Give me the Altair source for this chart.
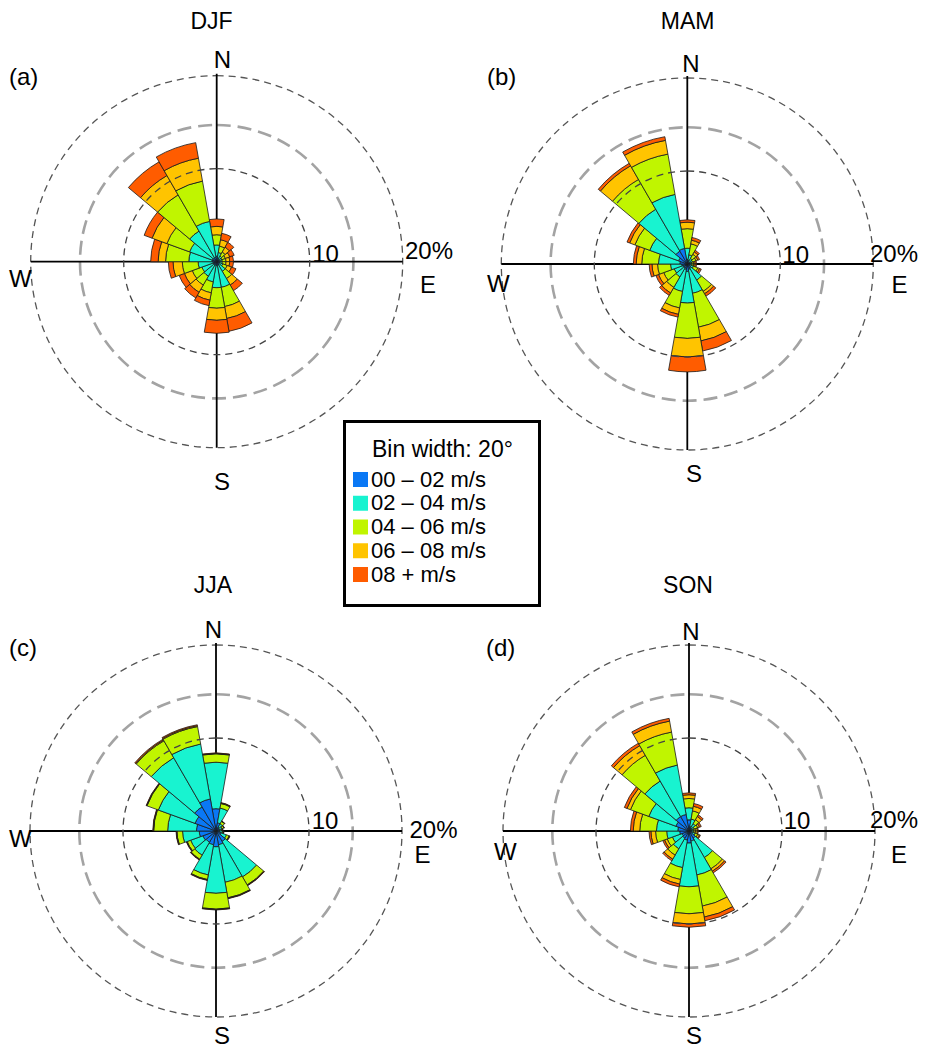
import math
import altair as alt
import pandas as pd

# ---------------- data ----------------
directions = list(range(0, 360, 20))          # bin centres, 20 degree bins
bin_width = 20
speed_classes = ["00 – 02 m/s", "02 – 04 m/s", "04 – 06 m/s", "06 – 08 m/s", "08 + m/s"]
speed_colors = ["#0a78f5", "#18f3d0", "#c0f500", "#ffc400", "#ff5c00"]
seasons = ["DJF", "MAM", "JJA", "SON"]
panel_tags = ["(a)", "(b)", "(c)", "(d)"]
ring_levels = [10, 14.7, 20]                  # % frequency circles

# frequency (%) per direction bin, one list per speed class
djf_00_02 = [0.6, 0.4, 0.3, 0.3, 0.3, 0.3, 0.3, 0.4, 0.4, 0.4, 0.4, 0.4, 0.4, 0.4, 0.5, 0.5, 0.5, 0.5]
djf_02_04 = [1.2, 0.6, 0.4, 0.3, 0.3, 0.3, 0.4, 0.8, 2.4, 2.4, 1.8, 1.4, 1.3, 1.6, 2.5, 2.6, 3.3, 3.9]
djf_04_06 = [1.1, 0.7, 0.5, 0.4, 0.4, 0.4, 0.5, 0.9, 2.1, 2.2, 1.2, 1.1, 1.1, 1.7, 2.5, 2.6, 4.5, 4.4]
djf_06_08 = [0.9, 0.7, 0.6, 0.5, 0.4, 0.4, 0.5, 0.8, 1.3, 1.3, 0.8, 0.9, 0.9, 1.0, 0.8, 1.7, 2.4, 2.5]
djf_08_up = [0.8, 0.7, 0.6, 0.5, 0.4, 0.4, 0.5, 0.7, 1.4, 1.4, 0.6, 0.7, 0.6, 0.5, 0.8, 0.9, 1.7, 1.7]

mam_00_02 = [0.5, 0.4, 0.3, 0.3, 0.3, 0.3, 0.3, 0.5, 0.6, 0.8, 0.6, 0.5, 0.5, 0.6, 0.8, 1.0, 1.6, 1.7]
mam_02_04 = [1.2, 0.6, 0.4, 0.3, 0.2, 0.2, 0.4, 1.5, 2.6, 3.4, 2.4, 1.1, 1.0, 1.2, 2.3, 3.3, 5.2, 5.9]
mam_04_06 = [2.1, 1.2, 0.5, 0.4, 0.2, 0.2, 0.5, 1.4, 3.7, 3.8, 1.8, 1.3, 1.2, 1.4, 1.8, 1.7, 3.7, 4.4]
mam_06_08 = [0.7, 0.4, 0.3, 0.2, 0.15, 0.15, 0.2, 0.3, 1.5, 2.0, 0.7, 0.7, 0.6, 0.6, 0.6, 0.6, 1.7, 1.5]
mam_08_up = [0.25, 0.3, 0.2, 0.2, 0.15, 0.15, 0.2, 0.3, 1.1, 1.6, 0.3, 0.3, 0.3, 0.3, 0.3, 0.3, 0.3, 0.4]

jja_00_02 = [2.4, 0.9, 0.5, 0.4, 0.4, 0.4, 0.6, 1.3, 1.5, 1.7, 1.5, 1.4, 1.5, 1.8, 2.1, 2.4, 3.0, 3.5]
jja_02_04 = [5.0, 1.6, 0.4, 0.3, 0.2, 0.3, 0.6, 4.4, 4.1, 5.0, 3.3, 1.6, 1.4, 1.8, 3.1, 4.2, 6.1, 6.0]
jja_04_06 = [0.9, 0.5, 0.3, 0.2, 0.1, 0.1, 0.3, 1.0, 1.7, 1.7, 0.5, 0.5, 0.4, 0.6, 1.5, 1.3, 2.1, 1.9]
jja_06_08 = [0.05, 0.05, 0.03, 0.03, 0.03, 0.03, 0.05, 0.05, 0.05, 0.05, 0.05, 0.05, 0.05, 0.05, 0.05, 0.05, 0.1, 0.1]
jja_08_up = [0.05, 0.05, 0.02, 0.02, 0.02, 0.02, 0.05, 0.05, 0.05, 0.05, 0.05, 0.05, 0.05, 0.05, 0.05, 0.05, 0.1, 0.1]

son_00_02 = [1.2, 0.5, 0.4, 0.3, 0.3, 0.3, 0.4, 0.9, 1.1, 1.3, 1.0, 0.9, 0.8, 1.0, 1.2, 1.5, 1.8, 1.8]
son_02_04 = [1.3, 0.8, 0.5, 0.3, 0.2, 0.2, 0.3, 2.4, 3.7, 4.7, 3.0, 1.3, 1.1, 1.4, 2.3, 3.1, 4.4, 5.4]
son_04_06 = [1.0, 0.9, 0.5, 0.4, 0.2, 0.2, 0.3, 1.4, 3.4, 2.9, 1.3, 0.8, 0.6, 1.2, 1.8, 2.1, 3.2, 3.6]
son_06_08 = [0.4, 0.5, 0.4, 0.2, 0.2, 0.2, 0.2, 0.3, 1.2, 1.1, 0.5, 0.5, 0.3, 0.5, 0.7, 0.4, 1.2, 1.2]
son_08_up = [0.2, 0.3, 0.2, 0.2, 0.1, 0.1, 0.1, 0.2, 0.4, 0.35, 0.3, 0.2, 0.2, 0.2, 0.3, 0.3, 0.3, 0.3]

season_data = {
    "DJF": [djf_00_02, djf_02_04, djf_04_06, djf_06_08, djf_08_up],
    "MAM": [mam_00_02, mam_02_04, mam_04_06, mam_06_08, mam_08_up],
    "JJA": [jja_00_02, jja_02_04, jja_04_06, jja_06_08, jja_08_up],
    "SON": [son_00_02, son_02_04, son_04_06, son_06_08, son_08_up],
}

# stacked table built from the arrays above
rows = []
for season in seasons:
    classes = season_data[season]
    for i, d in enumerate(directions):
        base = 0.0
        for k, name in enumerate(speed_classes):
            v = classes[k][i]
            rows.append({"season": season, "dir": d, "speed": name,
                         "t0": d - bin_width / 2, "t1": d + bin_width / 2,
                         "r0": base, "r1": base + v})
            base += v
bars_df = pd.DataFrame(rows)

# ---------------- layout / style ----------------
FONT = "Liberation Sans"
OFF = 8            # page margin (positions below are page pixels)
R = 186            # pixel radius of the 20 % circle
W, H = 912, 1042
LBL = 24           # compass font size

theta_scale = alt.Scale(domain=[0, 360], range=[0, 2 * math.pi], nice=False)
radius_scale = alt.Scale(type="linear", domain=[0, 20], range=[0, R], nice=False, zero=True)
color_scale = alt.Scale(domain=speed_classes, range=speed_colors)

dummy = pd.DataFrame({"k": [0]})


def ring(level, cx, cy, color, width, dash):
    return alt.Chart(pd.DataFrame({"r": [level]})).mark_arc(
        x=cx, y=cy, filled=False, stroke=color, strokeWidth=width, strokeDash=dash
    ).encode(
        theta=alt.datum(0), theta2=alt.datum(360),
        radius=alt.Radius("r:Q", scale=radius_scale),
    )


def label(text, x, y, align="center", size=LBL):
    return alt.Chart(dummy).mark_text(
        text=text, x=x - OFF, y=y - OFF, align=align, baseline="alphabetic",
        fontSize=size, font=FONT, color="black"
    ).encode(opacity=alt.value(1))


# label positions (page px): title, tag, N, W, E, 10, 20%, S
panels = [
    dict(season="DJF", tag="(a)", c=(216.7, 261.7),
         title=(211.5, 29), tagp=(9, 85), N=(222.5, 68), Wp=(9, 287), E=(428, 293),
         ten=(325.5, 261.5), twenty=(429, 259), S=(222, 490)),
    dict(season="MAM", tag="(b)", c=(687.3, 264.0),
         title=(687.7, 29), tagp=(487, 85), N=(691, 72), Wp=(487, 292), E=(899.5, 293),
         ten=(795.7, 263), twenty=(894, 262), S=(694, 482)),
    dict(season="JJA", tag="(c)", c=(216.0, 831.0),
         title=(213, 593), tagp=(9, 656), N=(213.5, 638), Wp=(9, 847), E=(422.5, 863),
         ten=(325, 829), twenty=(433.5, 838), S=(222, 1044)),
    dict(season="SON", tag="(d)", c=(689.0, 831.0),
         title=(688, 593), tagp=(486, 656), N=(691, 640), Wp=(494, 860), E=(899, 863),
         ten=(797, 829), twenty=(894, 828), S=(694, 1044)),
]

layers = []
for p in panels:
    cx, cy = p["c"][0] - OFF, p["c"][1] - OFF
    layers.append(ring(ring_levels[1], cx, cy, "#a3a3a3", 2.6, [14, 7]))
    layers.append(ring(ring_levels[2], cx, cy, "#555555", 1.3, [7, 5]))
    layers.append(alt.Chart(dummy).mark_rule(color="black", strokeWidth=1.8).encode(
        x=alt.value(cx - R), x2=alt.value(cx + R), y=alt.value(cy)))
    layers.append(alt.Chart(dummy).mark_rule(color="black", strokeWidth=1.8).encode(
        x=alt.value(cx), y=alt.value(cy - R - 2), y2=alt.value(cy + R)))
    layers.append(
        alt.Chart(bars_df).transform_filter(alt.datum.season == p["season"]).mark_arc(
            x=cx, y=cy, stroke="#1a1a1a", strokeWidth=0.8
        ).encode(
            theta=alt.Theta("t0:Q", scale=theta_scale),
            theta2="t1:Q",
            radius=alt.Radius("r1:Q", scale=radius_scale),
            radius2="r0:Q",
            color=alt.Color("speed:N", scale=color_scale, legend=None),
        )
    )
    layers.append(ring(ring_levels[0], cx, cy, "#444444", 1.3, [7, 5]))
    layers.append(label(p["season"], *p["title"], size=23))
    layers.append(label(p["tag"], *p["tagp"], align="left"))
    layers.append(label("N", *p["N"]))
    layers.append(label("W", *p["Wp"], align="left"))
    layers.append(label("E", *p["E"]))
    layers.append(label("10", *p["ten"]))
    layers.append(label("20%", *p["twenty"]))
    layers.append(label("S", *p["S"]))

# legend box
legend_df = pd.DataFrame({"speed": speed_classes})
legend_y = alt.Scale(type="point", domain=speed_classes, range=[479.5 - OFF, 574.5 - OFF], padding=0)
layers.append(alt.Chart(dummy).mark_rect(fill="white", stroke="black", strokeWidth=3).encode(
    x=alt.value(344.5 - OFF), x2=alt.value(539.5 - OFF), y=alt.value(421.5 - OFF), y2=alt.value(605.5 - OFF)))
layers.append(label("Bin width: 20°", 372, 456.5, align="left", size=23))
layers.append(alt.Chart(legend_df).mark_square(size=225, opacity=1, x=360.5 - OFF).encode(
    y=alt.Y("speed:N", scale=legend_y, axis=None),
    color=alt.Color("speed:N", scale=color_scale, legend=None)))
layers.append(alt.Chart(legend_df).mark_text(
    x=371 - OFF, align="left", baseline="middle", fontSize=22, font=FONT, color="black"
).encode(y=alt.Y("speed:N", scale=legend_y, axis=None), text="speed:N"))

chart = alt.layer(*layers).properties(
    width=W, height=H, autosize="none", padding=0
).configure_view(strokeWidth=0)

chart.save("out.html", embed_options={"renderer": "svg", "actions": False})
